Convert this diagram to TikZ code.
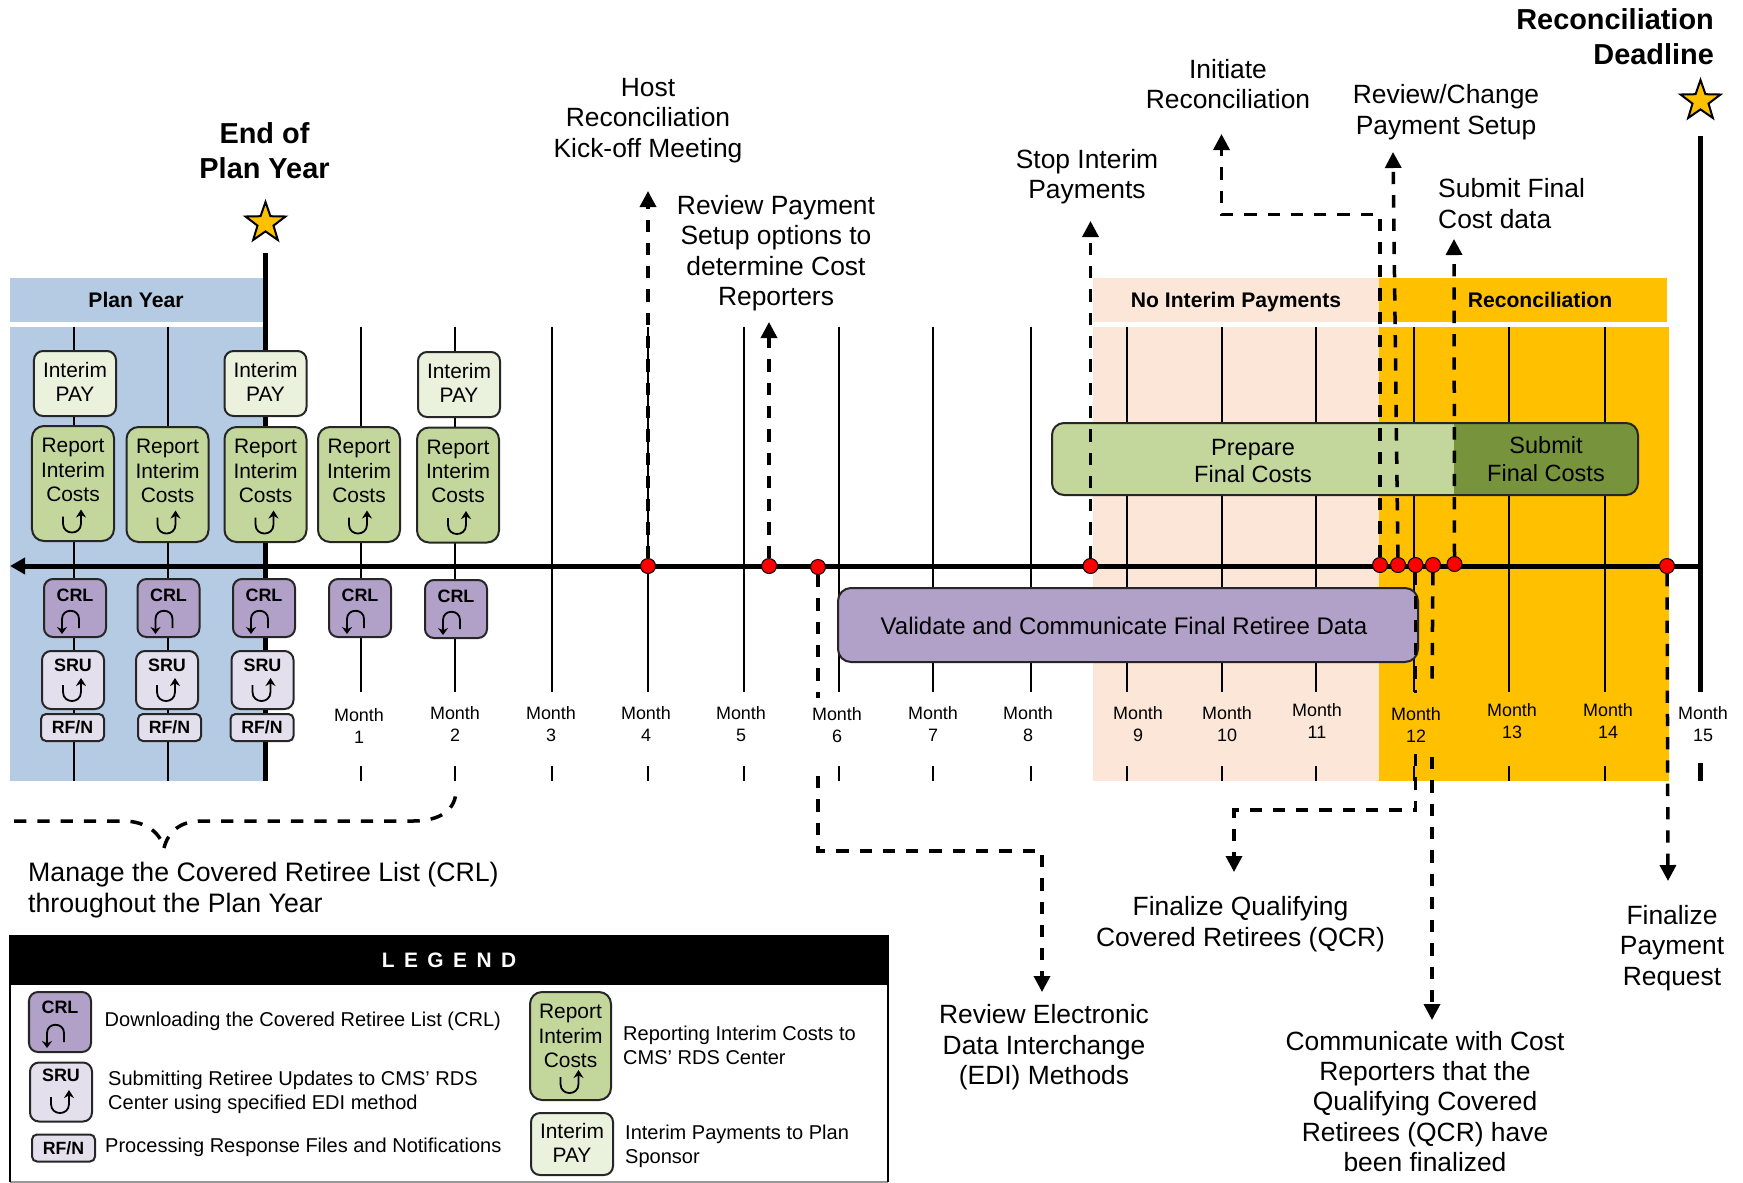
\documentclass[tikz,border=0pt]{standalone}
\usepackage{fontspec}
\setmainfont{Liberation Sans}
\usetikzlibrary{arrows.meta,shapes.geometric,calc}
\definecolor{planblue}{HTML}{B5CAE3}
\definecolor{peach}{HTML}{FBE6D7}
\definecolor{gold}{HTML}{FFC000}
\definecolor{midgreen}{HTML}{C3D69B}
\definecolor{palegreen}{HTML}{EAF1DD}
\definecolor{darkgreen}{HTML}{77933C}
\definecolor{midpurple}{HTML}{B1A0C7}
\definecolor{palepurple}{HTML}{E4DFEC}
\newcommand{\fs}[2]{\fontsize{#1}{#2}\selectfont}
\newcommand{\paytext}{Interim\\PAY\rule[-3bp]{0pt}{0pt}}
\tikzset{
  tick/.style={line width=2bp,black},
  thickline/.style={line width=5bp,black},
  basebox/.style={draw=black!85,line width=2bp,rounded corners=9bp,inner sep=0pt,align=center},
  paybox/.style={basebox,fill=palegreen,minimum width=82bp,minimum height=65bp,font=\fs{21}{24}},
  repbox/.style={basebox,fill=midgreen,minimum width=82bp,minimum height=115bp,font=\fs{21}{24.2},rounded corners=12bp},
  crlbox/.style={basebox,fill=midpurple,minimum width=62bp,minimum height=58bp,font=\bfseries\fs{18}{26}},
  srubox/.style={basebox,fill=palepurple,minimum width=62bp,minimum height=58bp,font=\bfseries\fs{18}{26}},
  rfnbox/.style={basebox,fill=palepurple,minimum width=63bp,minimum height=27bp,font=\bfseries\fs{17.8}{20},rounded corners=5bp},
  month/.style={align=center,font=\fs{18}{21.5},inner sep=0pt},
  callout/.style={align=center,font=\fs{26.5}{30.5},inner sep=0pt},
  headline/.style={align=center,font=\bfseries\fs{29}{35},inner sep=0pt},
  bandlabel/.style={font=\bfseries\fs{21.2}{24},inner sep=0pt},
  legtext/.style={align=left,anchor=west,font=\fs{20.1}{24},inner sep=0pt},
  evdot/.style={circle,draw=black,line width=1bp,fill=red,minimum size=15bp,inner sep=0pt},
  dashline/.style={line width=3.5bp,dash pattern=on 12.3bp off 11bp,black},
  dasharrow/.style={dashline,-{Triangle[length=16bp,width=16bp]}},
  upicon/.pic={\draw[line width=1.8bp,-{Stealth[length=8bp,width=10bp]}] (-10,-5) -- (-10,2) .. controls (-10,14) and (8,14) .. (8,2) -- (8,-12);},
  downicon/.pic={\draw[line width=1.8bp,-{Stealth[length=7bp,width=10bp]}] (9,8) -- (9,-1) .. controls (9,-12) and (-8,-12) .. (-8,-1) -- (-8,14);},
  staricon/.style={star,star points=5,star point ratio=2.5,draw=black,line width=2bp,fill=gold,minimum size=42bp,inner sep=0pt}
}
\newcommand{\repnode}[3]{\node[repbox] (#1) at (#2,#3) {Report\\Interim\\Costs\\[-4bp]\strut};\pic at ([yshift=-38bp]#1.center) {upicon};}
\newcommand{\crlnode}[3]{\node[crlbox] (#1) at (#2,#3) {CRL\\[-9bp]\strut};\pic at ([xshift=-5bp,yshift=-12bp]#1.center) {downicon};}
\newcommand{\srunode}[3]{\node[srubox] (#1) at (#2,#3) {SRU\\[-4bp]\strut};\pic at ([yshift=-10bp]#1.center) {upicon};}
\begin{document}
\begin{tikzpicture}[x=1bp,y=-1bp]
\useasboundingbox (0,0) rectangle (1743,1182);
% bands
\fill[planblue] (10,278) rectangle (263,322);
\fill[planblue] (10,326.5) rectangle (263,781);
\fill[peach] (1093,278) rectangle (1379,322);
\fill[peach] (1093,326.5) rectangle (1379,781);
\fill[gold] (1379,278) rectangle (1667,322);
\fill[gold] (1379,326.5) rectangle (1669,781);
\node[bandlabel] (bandplan) at (136,300) {Plan Year};
\node[bandlabel] (bandno) at (1236,302) {No Interim Payments};
\node[bandlabel] (bandrec) at (1540,300) {Reconciliation};
% ticks
\foreach \x in {74,168} \draw[tick] (\x,326.5) -- (\x,781);
\foreach \x in {361,455,552,648,744,839,933,1030.5,1126.5,1221.5,1316,1414,1509,1605} {
  \draw[tick] (\x,326.5) -- (\x,692);
  \draw[tick] (\x,766) -- (\x,781);
}
\coordinate (py1) at (265,253);
\coordinate (py2) at (265,781);
\draw[thickline] (py1) -- (py2);
\coordinate (rd1) at (1700.5,136);
\coordinate (rd2) at (1700.5,692);
\coordinate (rd3) at (1700.5,763);
\coordinate (rd4) at (1700.5,781);
\draw[thickline] (rd1) -- (rd2);
\draw[thickline] (rd3) -- (rd4);
% axis
\coordinate (axisR) at (1700.5,566);
\coordinate (axisL) at (10,566);
\draw[thickline,-{Triangle[length=15bp,width=16bp]}] (axisR) -- (axisL);
% stars
\node[staricon] (star1) at (265.5,223) {};
\node[staricon] (star2) at (1700.5,101) {};
\node[headline] (eop) at (264.5,151) {End of\\Plan Year};
\node[headline,align=right,anchor=north east] (recd) at (1714,8.5) {Reconciliation\\Deadline};
% interim pay
\node[paybox] (p1) at (75,383.5) {\paytext};
\node[paybox] (p3) at (265.5,383.5) {\paytext};
\node[paybox] (p5) at (459,384.5) {\paytext};
% report
\repnode{r1}{73}{483.5}
\repnode{r2}{167.5}{484.5}
\repnode{r3}{265.5}{484.5}
\repnode{r4}{359}{484.5}
\repnode{r5}{458}{485}
% crl
\crlnode{c1}{75}{608}
\crlnode{c2}{168.5}{608}
\crlnode{c3}{264}{608}
\crlnode{c4}{360}{608}
\crlnode{c5}{456}{609}
% sru
\srunode{s1}{73}{680}
\srunode{s2}{167}{680}
\srunode{s3}{262.5}{680}
% rfn
\node[rfnbox] (f1) at (72.5,727.5) {RF/N};
\node[rfnbox] (f2) at (169.5,727.5) {RF/N};
\node[rfnbox] (f3) at (262,727.5) {RF/N};
% months
\node[month] (m1) at (359,726) {Month\\1};
\node[month] (m2) at (455,724) {Month\\2};
\node[month] (m3) at (551,724) {Month\\3};
\node[month] (m4) at (646,724) {Month\\4};
\node[month] (m5) at (741,724) {Month\\5};
\node[month] (m6) at (837,725) {Month\\6};
\node[month] (m7) at (933,724) {Month\\7};
\node[month] (m8) at (1028,724) {Month\\8};
\node[month] (m9) at (1138,724) {Month\\9};
\node[month] (m10) at (1227,724) {Month\\10};
\node[month] (m11) at (1317,721) {Month\\11};
\node[month] (m12) at (1416,725) {Month\\12};
\node[month] (m13) at (1512,721) {Month\\13};
\node[month] (m14) at (1608,721) {Month\\14};
\node[month] (m15) at (1703,724) {Month\\15};
% long bars
\path[fill=midgreen] (1454,423) -- (1064,423) arc[start angle=90,end angle=180,radius=12bp] -- (1052,483) arc[start angle=180,end angle=270,radius=12bp] -- (1454,495) -- cycle;
\path[fill=darkgreen] (1454,423) -- (1626,423) arc[start angle=90,end angle=0,radius=12bp] -- (1638,483) arc[start angle=0,end angle=-90,radius=12bp] -- (1454,495) -- cycle;
\node[draw=black!85,line width=2bp,rounded corners=12bp,minimum width=586bp,minimum height=72bp,inner sep=0pt] (barfinal) at (1345,459) {};
\node[align=center,font=\fs{23.6}{27.5},inner sep=0pt] (prep) at (1253,461) {Prepare\\Final Costs};
\node[align=center,font=\fs{23.6}{27.5},inner sep=0pt] (subm) at (1546,459) {Submit\\Final Costs};
\node[basebox,fill=midpurple,rounded corners=13bp,minimum width=580bp,minimum height=74bp] (barval) at (1128,625) {};
\node[font=\fs{24.1}{27},inner sep=0pt] (valtxt) at (1124,626) {Validate and Communicate Final Retiree Data};
% event dots
\node[evdot] (dhost) at (648,566) {};
\node[evdot] (dpay) at (769,566) {};
\node[evdot] (dedi) at (818,567) {};
\node[evdot] (dstop) at (1090.5,566) {};
\node[evdot] (dinit) at (1380,565) {};
\node[evdot] (dchg) at (1398,565) {};
\node[evdot] (dqcr) at (1415.5,565) {};
\node[evdot] (dcomm) at (1433,565) {};
\node[evdot] (dsub) at (1454.5,564) {};
\node[evdot] (dfin) at (1667,566) {};
% dashed connectors
\coordinate (thost) at (648,191);
\coordinate (tpay) at (769,322);
\coordinate (tstop) at (1090.5,221);
\coordinate (ia) at (1380,214.5);
\coordinate (ib) at (1221.5,214.5);
\coordinate (tinit) at (1221.5,134);
\coordinate (tchg) at (1393,152);
\coordinate (tsub) at (1454,239);
\draw[dasharrow] (dhost) -- (thost);
\draw[dasharrow] (dpay) -- (tpay);
\draw[dasharrow] (dstop) -- (tstop);
\draw[dasharrow] (dinit) -- (ia) -- (ib) -- (tinit);
\draw[dasharrow] (dchg) -- (tchg);
\draw[dasharrow] (dsub) -- (tsub);
\coordinate (ea) at (818,698);
\coordinate (eb) at (818,776);
\coordinate (ec) at (818,851);
\coordinate (ed) at (1042,851);
\coordinate (te) at (1042,992);
\draw[dashline] (dedi) -- (ea);
\draw[dasharrow] (eb) -- (ec) -- (ed) -- (te);
\coordinate (qa) at (1415.5,693);
\coordinate (qb) at (1415.5,754);
\coordinate (qc) at (1415.5,810);
\coordinate (qd) at (1234,810);
\coordinate (tq) at (1234,872);
\draw[dashline] (dqcr) -- (qa);
\draw[dasharrow] (qb) -- (qc) -- (qd) -- (tq);
\coordinate (ka) at (1432,685);
\coordinate (kb) at (1432,757);
\coordinate (tk) at (1432,1020);
\draw[dashline] (dcomm) -- (ka);
\draw[dasharrow] (kb) -- (tk);
\coordinate (tfin) at (1668,881);
\draw[dasharrow] (dfin) -- (tfin);
% brace
\coordinate (bl) at (14,821);
\coordinate (bt) at (164,848);
\coordinate (br) at (456,790);
\draw[dashline] (bl) -- (123,821) .. controls (145,821) and (160,832) .. (bt);
\draw[dashline] (bt) .. controls (168,832) and (180,821) .. (201,821) -- (413,821) .. controls (440,821) and (456,810) .. (br);
% callouts
\node[callout] (lhost) at (648,120.5) {Host\\Reconciliation\\Kick-off Meeting};
\node[callout] (lpay) at (776,253) {Review Payment\\Setup options to\\determine Cost\\Reporters};
\node[callout] (lstop) at (1087,176.5) {Stop Interim\\Payments};
\node[callout] (linit) at (1228,84) {Initiate\\Reconciliation};
\node[callout] (lchg) at (1446,112) {Review/Change\\Payment Setup};
\node[callout,align=left,anchor=west] (lsub) at (1438,203.5) {Submit Final\\Cost data};
\node[callout,align=left,anchor=north west,font=\fs{26.8}{31}] (lman) at (28,862) {Manage the Covered Retiree List (CRL)\\throughout the Plan Year};
\node[callout] (lqcr) at (1240.5,924) {Finalize Qualifying\\Covered Retirees (QCR)};
\node[callout] (lfin) at (1672,948) {Finalize\\Payment\\Request};
\node[callout] (ledi) at (1044,1047.5) {Review Electronic\\Data Interchange\\(EDI) Methods};
\node[callout] (lcomm) at (1425,1101.5) {Communicate with Cost\\Reporters that the\\Qualifying Covered\\Retirees (QCR) have\\been finalized};
% legend
\draw[line width=1.5bp,black!40] (10,1182) -- (888,1182);
\draw[line width=2.5bp,black] (10,985) -- (10,1182);
\draw[line width=2.5bp,black] (888,985) -- (888,1182);
\fill[black] (9,935) rectangle (889,985);
\node[inner sep=0pt,text=white,font=\bfseries\fs{21}{24}] (legt) at (449,960) {\addfontfeature{LetterSpace=45}LEGEND};
\node[crlbox,minimum width=62bp,minimum height=60bp] (lc) at (60,1022) {CRL\\[-4bp]\strut};
\pic at ([xshift=-5bp,yshift=-12bp]lc.center) {downicon};
\node[srubox,minimum width=62bp,minimum height=59bp] (ls) at (61,1092) {SRU\\\strut};
\pic at ([yshift=-10bp]ls.center) {upicon};
\node[rfnbox] (lf) at (63.5,1148) {RF/N};
\node[repbox,minimum width=81bp,minimum height=108bp] (lr) at (570.5,1046) {Report\\Interim\\Costs\\[-11bp]\strut};
\pic at ([yshift=-36bp]lr.center) {upicon};
\node[paybox,minimum height=62bp] (lp) at (572,1144) {\paytext};
\node[legtext] (tc) at (104.5,1021) {Downloading the Covered Retiree List (CRL)};
\node[legtext] (ts) at (108,1092.5) {Submitting Retiree Updates to CMS’ RDS\\Center using specified EDI method};
\node[legtext] (tf) at (105,1147.5) {Processing Response Files and Notifications};
\node[legtext] (tr) at (623,1045) {Reporting Interim Costs to\\CMS’ RDS Center};
\node[legtext] (tp) at (625,1146) {Interim Payments to Plan\\Sponsor};
\end{tikzpicture}
\end{document}
